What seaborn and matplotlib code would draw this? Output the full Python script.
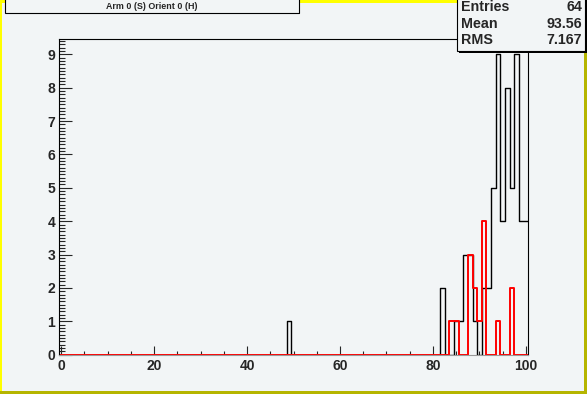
import numpy as np
import pandas as pd
import matplotlib
matplotlib.use("Agg")
import matplotlib.pyplot as plt
from matplotlib.patches import Rectangle
import seaborn as sns

# bin centres (integers) and counts
black_bins = [49, 82, 85, 86, 87, 88, 89, 91, 92, 93, 94, 95, 96, 97, 98, 99, 100]
black_counts = [1, 2, 1, 1, 3, 3, 1, 2, 2, 5, 9, 4, 8, 5, 9, 4, 4]
red_bins = [84, 85, 88, 89, 90, 91, 94, 97]
red_counts = [1, 1, 3, 2, 1, 4, 1, 2]

x_ticks = [0, 20, 40, 60, 80, 100]
y_ticks = [0, 1, 2, 3, 4, 5, 6, 7, 8, 9]

title = "Arm 0 (S) Orient 0 (H)"
stat_names = ["Entries", "Mean", "RMS"]
stat_values = ["64", "93.56", "7.167"]

bg = "#f2f5f6"
W, H = 587, 394

sns.set_style("ticks")
plt.rcParams["font.family"] = ["Liberation Sans", "DejaVu Sans"]
plt.rcParams["font.weight"] = "bold"

black_df = pd.DataFrame({"bin": black_bins, "count": black_counts})
red_df = pd.DataFrame({"bin": red_bins, "count": red_counts})

fig = plt.figure(figsize=(W / 100, H / 100), dpi=100, facecolor=bg)
ax = fig.add_axes([0.1, 0.1, 0.8, 0.8], facecolor=bg)

sns.histplot(data=black_df, x="bin", weights="count", binwidth=1, binrange=(-0.5, 100.5),
             element="step", fill=False, color="black", linewidth=1.0, ax=ax)
sns.histplot(data=red_df, x="bin", weights="count", binwidth=1, binrange=(-0.5, 100.5),
             element="step", fill=False, color="red", linewidth=1.4, ax=ax)

ax.set_xlim(-0.5, 100.5)
ax.set_ylim(0, 9.45)
ax.set_xlabel("")
ax.set_ylabel("")
ax.set_xticks(x_ticks)
ax.set_xticks(np.arange(0, 101, 5), minor=True)
ax.set_yticks(y_ticks)
ax.set_yticks(np.arange(0, 9.45, 0.1), minor=True)
ax.set_xticklabels([str(t) for t in x_ticks], fontweight="bold", fontsize=10)
ax.set_yticklabels([str(t) for t in y_ticks], fontweight="bold", fontsize=10)
ax.tick_params(axis="x", which="major", direction="in", length=6.5, width=0.8, pad=3.0)
ax.tick_params(axis="x", which="minor", direction="in", length=3.2, width=0.8)
ax.tick_params(axis="y", which="major", direction="in", length=9, width=0.8, pad=2.5)
ax.tick_params(axis="y", which="minor", direction="in", length=4.5, width=0.8)
for s in ax.spines.values():
    s.set_linewidth(0.8)
    s.set_color("black")
ax.spines["bottom"].set_color("#999999")


def px_rect(x0, y0, x1, y1, **kw):
    # rectangle given in picture pixels (origin top left)
    r = Rectangle((x0 / W, 1 - y1 / H), (x1 - x0) / W, (y1 - y0) / H,
                  transform=fig.transFigure, **kw)
    fig.add_artist(r)


# pad border (bright top/left, dark bottom/right)
px_rect(0, 0, W, 2.5, facecolor="#ffff00", edgecolor="none", zorder=5)
px_rect(0, 0, 2, H, facecolor="#ffff00", edgecolor="none", zorder=5)
px_rect(0, H - 2.7, W, H, facecolor="#b5b500", edgecolor="none", zorder=5)
px_rect(W - 2.7, 0, W, H, facecolor="#b5b500", edgecolor="none", zorder=5)

# title box
px_rect(6.5, -2, 300.5, 14, facecolor="black", edgecolor="none", zorder=6)
px_rect(5, -2, 299, 12.5, facecolor=bg, edgecolor="black", linewidth=0.8, zorder=7)
fig.text(152 / W, 1 - 6.3 / H, title, ha="center", va="center",
         fontsize=6.4, fontweight="bold", zorder=8)

# stats box
px_rect(459, -2, 586.5, 52.5, facecolor="black", edgecolor="none", zorder=6)
px_rect(457, -2, 584.5, 50.5, facecolor=bg, edgecolor="black", linewidth=0.8, zorder=7)
for i, (n, v) in enumerate(zip(stat_names, stat_values)):
    yy = 1 - (7 + 16.5 * i) / H
    fig.text(461 / W, yy, n, ha="left", va="center", fontsize=10.3,
             fontweight="bold", zorder=8)
    fig.text(582 / W, yy, v, ha="right", va="center", fontsize=10.3,
             fontweight="bold", zorder=8)

fig.savefig("out.png", dpi=100, facecolor=bg)
